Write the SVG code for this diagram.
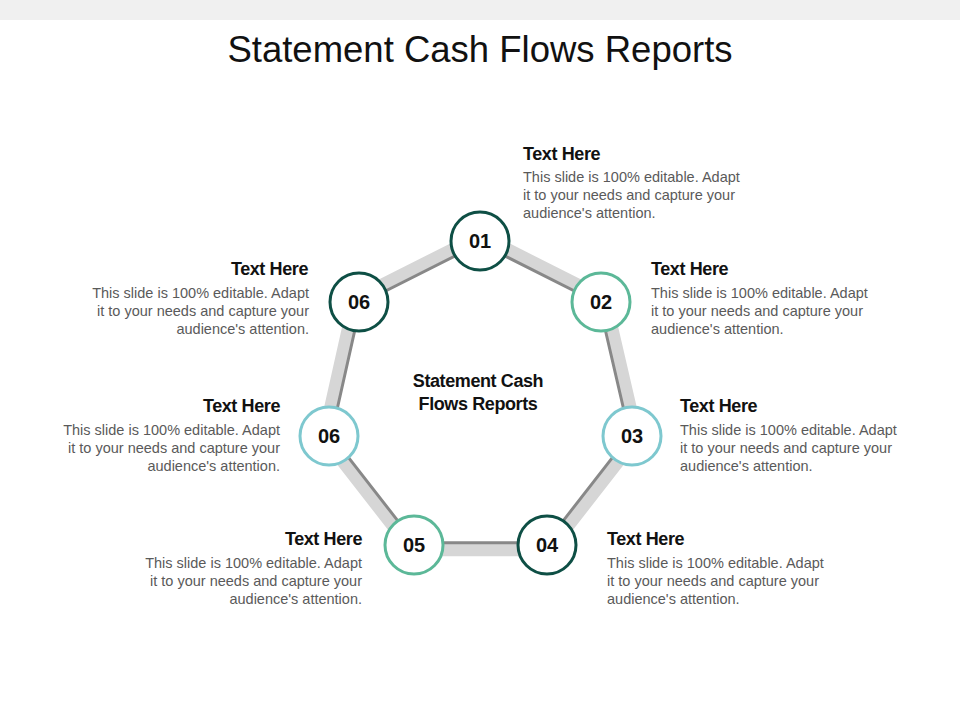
<svg xmlns="http://www.w3.org/2000/svg" width="960" height="720" viewBox="0 0 960 720">
<style>
.t{font-family:"Liberation Sans",Arial,sans-serif}
.h{font-family:"Liberation Sans",Arial,sans-serif;font-weight:bold;font-size:18px;fill:#111;letter-spacing:-0.4px}
.b{font-family:"Liberation Sans",Arial,sans-serif;font-size:14.5px;fill:#5a5a5a}
.n{font-family:"Liberation Sans",Arial,sans-serif;font-weight:bold;font-size:20px;fill:#111;text-anchor:middle}
circle{fill:#fff;stroke-width:3}
.d{stroke:#0e4f45}.g{stroke:#5cb898}.c{stroke:#7ec8cf}
</style>
<rect x="0" y="0" width="960" height="20" fill="#f0f0f0"/>
<text x="480" y="62" class="t" font-size="36.5" text-anchor="middle" fill="#111">Statement Cash Flows Reports</text>
<g id="connectors">
<polygon points="480,241 601,302 632,436 547,545 414,545 329,436 359,302" fill="none" stroke="#d6d6d6" stroke-width="12" stroke-linejoin="round" transform="translate(480,400) scale(1.035) translate(-480,-400)"/>
<polygon points="480,241 601,302 632,436 547,545 414,545 329,436 359,302" fill="none" stroke="#888" stroke-width="3" transform="translate(480,400) scale(0.985) translate(-480,-400)"/>
</g>
<g id="center"><text x="478" y="387" class="h" text-anchor="middle" letter-spacing="0">Statement Cash</text><text x="478" y="410" class="h" text-anchor="middle" letter-spacing="0">Flows Reports</text></g>
<g id="n01"><circle cx="480" cy="241" r="29" class="d"/><text x="480" y="248" class="n">01</text>
<text x="523" y="160" class="h">Text Here</text><text class="b"><tspan x="523" y="182">This slide is 100% editable.  Adapt</tspan><tspan x="523" y="200">it to your needs and capture your</tspan><tspan x="523" y="218">audience's attention.</tspan></text></g>
<g id="n02"><circle cx="601" cy="302" r="29" class="g"/><text x="601" y="309" class="n">02</text>
<text x="651" y="275" class="h">Text Here</text><text class="b"><tspan x="651" y="298">This slide is 100% editable.  Adapt</tspan><tspan x="651" y="316">it to your needs and capture your</tspan><tspan x="651" y="334">audience's attention.</tspan></text></g>
<g id="n03"><circle cx="632" cy="436" r="29" class="c"/><text x="632" y="443" class="n">03</text>
<text x="680" y="412" class="h">Text Here</text><text class="b"><tspan x="680" y="435">This slide is 100% editable.  Adapt</tspan><tspan x="680" y="453">it to your needs and capture your</tspan><tspan x="680" y="471">audience's attention.</tspan></text></g>
<g id="n04"><circle cx="547" cy="545" r="29" class="d"/><text x="547" y="552" class="n">04</text>
<text x="607" y="545" class="h">Text Here</text><text class="b"><tspan x="607" y="568">This slide is 100% editable.  Adapt</tspan><tspan x="607" y="586">it to your needs and capture your</tspan><tspan x="607" y="604">audience's attention.</tspan></text></g>
<g id="n05"><circle cx="414" cy="545" r="29" class="g"/><text x="414" y="552" class="n">05</text>
<text x="362" y="545" class="h" text-anchor="end">Text Here</text><text class="b" text-anchor="end"><tspan x="362" y="568">This slide is 100% editable.  Adapt</tspan><tspan x="362" y="586">it to your needs and capture your</tspan><tspan x="362" y="604">audience's attention.</tspan></text></g>
<g id="n06b"><circle cx="329" cy="436" r="29" class="c"/><text x="329" y="443" class="n">06</text>
<text x="280" y="412" class="h" text-anchor="end">Text Here</text><text class="b" text-anchor="end"><tspan x="280" y="435">This slide is 100% editable.  Adapt</tspan><tspan x="280" y="453">it to your needs and capture your</tspan><tspan x="280" y="471">audience's attention.</tspan></text></g>
<g id="n06"><circle cx="359" cy="302" r="29" class="d"/><text x="359" y="309" class="n">06</text>
<text x="308" y="275" class="h" text-anchor="end">Text Here</text><text class="b" text-anchor="end"><tspan x="309" y="298">This slide is 100% editable.  Adapt</tspan><tspan x="309" y="316">it to your needs and capture your</tspan><tspan x="309" y="334">audience's attention.</tspan></text></g>
</svg>
